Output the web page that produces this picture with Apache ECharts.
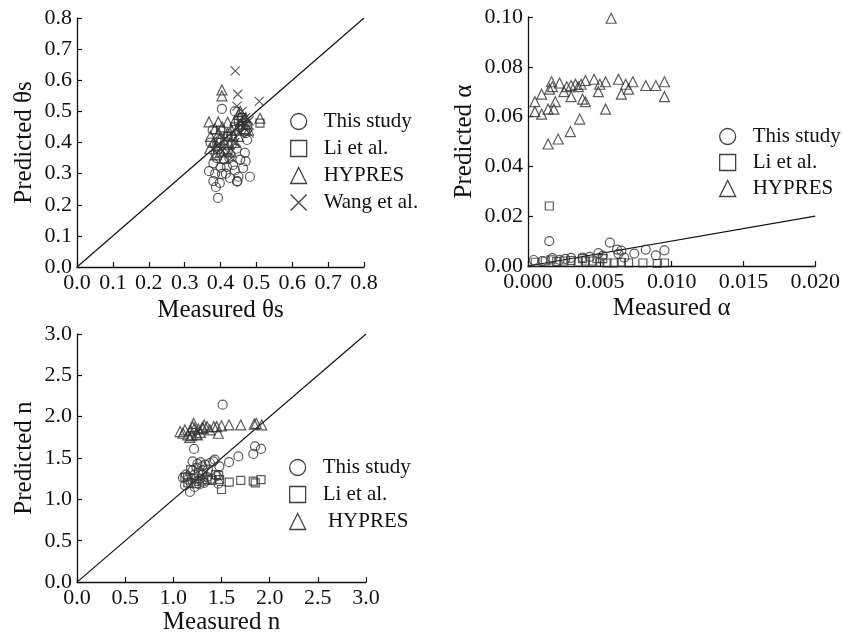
<!DOCTYPE html>
<html>
<head>
<meta charset="utf-8">
<script src="https://cdn.jsdelivr.net/npm/echarts@6/dist/echarts.min.js"></script>
<style>html,body{margin:0;padding:0;background:#fff}#c{width:843px;height:636px}</style>
</head>
<body>
<div id="c"></div>
<script>
// ---------- Panel 1: theta_s (measured, predicted) ----------
const thetaThisStudy = [[0.404,0.508],[0.393,0.222],[0.387,0.257],[0.380,0.276],[0.368,0.308],[0.398,0.270],[0.404,0.299],[0.426,0.286],[0.446,0.274],[0.482,0.290],[0.468,0.367],[0.463,0.318],[0.380,0.333],[0.418,0.322],[0.435,0.328],[0.372,0.400],[0.474,0.408],[0.390,0.350],[0.410,0.345],[0.455,0.345],[0.395,0.380],[0.420,0.370],[0.445,0.380],[0.470,0.430],[0.378,0.440],[0.400,0.410],[0.430,0.420],[0.455,0.450],[0.440,0.500],[0.460,0.480],[0.385,0.300],[0.415,0.300],[0.440,0.310],[0.470,0.340],[0.400,0.320],[0.425,0.350],[0.450,0.290],[0.386,0.365],[0.432,0.395],[0.475,0.455],[0.447,0.276]];
const thetaLi = [[0.510,0.462],[0.400,0.440],[0.420,0.420],[0.440,0.450],[0.460,0.480],[0.470,0.440],[0.390,0.400],[0.450,0.470]];
const thetaHypres = [[0.368,0.466],[0.394,0.466],[0.404,0.569],[0.404,0.550],[0.510,0.478],[0.370,0.380],[0.372,0.420],[0.385,0.445],[0.395,0.430],[0.405,0.450],[0.412,0.400],[0.420,0.465],[0.430,0.440],[0.440,0.470],[0.450,0.490],[0.455,0.460],[0.462,0.470],[0.470,0.480],[0.380,0.400],[0.390,0.390],[0.400,0.370],[0.415,0.380],[0.425,0.395],[0.435,0.420],[0.445,0.440],[0.455,0.500],[0.465,0.445],[0.475,0.460],[0.478,0.440],[0.385,0.360],[0.410,0.350],[0.430,0.370],[0.440,0.400],[0.450,0.420],[0.420,0.430],[0.398,0.410]];
const thetaWang = [[0.441,0.630],[0.448,0.555],[0.508,0.532],[0.446,0.517],[0.470,0.480],[0.480,0.470],[0.460,0.500],[0.400,0.380],[0.420,0.370],[0.440,0.400],[0.455,0.430],[0.470,0.460],[0.430,0.350],[0.410,0.410],[0.480,0.430],[0.390,0.390]];
const thetaOneToOne = [[0,0],[0.8,0.8]];
const thetaTicks = ['0.0','0.1','0.2','0.3','0.4','0.5','0.6','0.7','0.8'];

// ---------- Panel 2: alpha ----------
const alphaThisStudy = [[0.00148,0.0100],[0.0057,0.0094],[0.0062,0.0066],[0.0065,0.0062],[0.0074,0.0050],[0.0082,0.0066],[0.0089,0.0043],[0.0095,0.0063],[0.0063,0.0049],[0.0049,0.0052],[0.0004,0.0024],[0.0017,0.0032],[0.0026,0.0029],[0.0030,0.0033],[0.0038,0.0034],[0.0043,0.0037],[0.0052,0.0042],[0.0067,0.0034],[0.0022,0.0025],[0.0010,0.0020]];
const alphaLi = [[0.0005,0.0015],[0.0012,0.0020],[0.00148,0.0241],[0.0016,0.0025],[0.0020,0.0018],[0.0025,0.0020],[0.0030,0.0022],[0.0035,0.0016],[0.0040,0.0020],[0.0045,0.0020],[0.0050,0.0015],[0.0055,0.0012],[0.0060,0.0012],[0.0065,0.0015],[0.0070,0.0012],[0.0080,0.0012],[0.0090,0.0010],[0.0095,0.0012],[0.0038,0.0030],[0.0048,0.0030],[0.0052,0.0030]];
const alphaHypres = [[0.00579,0.0995],[0.00048,0.066],[0.00048,0.062],[0.00095,0.061],[0.00095,0.069],[0.0014,0.063],[0.0014,0.049],[0.00164,0.074],[0.0015,0.071],[0.0018,0.063],[0.0019,0.066],[0.0021,0.051],[0.0022,0.0735],[0.0027,0.072],[0.00295,0.054],[0.0030,0.068],[0.0030,0.0725],[0.0033,0.073],[0.0036,0.059],[0.0037,0.073],[0.0038,0.067],[0.0040,0.066],[0.0040,0.0745],[0.0046,0.075],[0.0049,0.070],[0.0050,0.073],[0.0054,0.063],[0.0054,0.074],[0.0063,0.075],[0.0065,0.069],[0.0068,0.073],[0.0070,0.071],[0.0073,0.074],[0.0082,0.0725],[0.0089,0.0725],[0.0095,0.074],[0.0095,0.068],[0.0017,0.072],[0.0025,0.070],[0.0035,0.072]];
const alphaOneToOne = [[0,0],[0.02,0.02]];
const alphaXTicks = ['0.000','0.005','0.010','0.015','0.020'];
const alphaYTicks = ['0.00','0.02','0.04','0.06','0.08','0.10'];

// ---------- Panel 3: n ----------
const nThisStudy = [[1.512,2.145],[1.215,1.61],[1.675,1.52],[1.578,1.45],[1.848,1.64],[1.91,1.61],[1.83,1.55],[1.478,1.40],[1.415,1.46],[1.467,1.19],[1.173,1.09],[1.12,1.17],[1.10,1.26],[1.15,1.28],[1.20,1.46],[1.25,1.43],[1.28,1.45],[1.30,1.40],[1.33,1.42],[1.38,1.44],[1.43,1.48],[1.20,1.35],[1.22,1.30],[1.25,1.22],[1.28,1.25],[1.30,1.30],[1.32,1.20],[1.35,1.27],[1.40,1.25],[1.18,1.20],[1.22,1.15],[1.27,1.18],[1.15,1.24],[1.13,1.30],[1.36,1.36],[1.45,1.28],[1.24,1.38],[1.31,1.35]];
const nLi = [[1.50,1.12],[1.58,1.21],[1.70,1.23],[1.85,1.20],[1.91,1.24],[1.47,1.29],[1.44,1.30],[1.12,1.27],[1.18,1.36],[1.22,1.25],[1.26,1.32],[1.30,1.22],[1.35,1.24],[1.40,1.23],[1.15,1.20],[1.24,1.19],[1.48,1.24],[1.83,1.22]];
const nHypres = [[1.07,1.82],[1.10,1.80],[1.12,1.84],[1.15,1.78],[1.17,1.75],[1.18,1.83],[1.20,1.88],[1.21,1.92],[1.22,1.86],[1.24,1.79],[1.26,1.85],[1.28,1.81],[1.30,1.87],[1.31,1.86],[1.32,1.90],[1.35,1.88],[1.38,1.84],[1.42,1.88],[1.45,1.88],[1.467,1.80],[1.50,1.89],[1.578,1.90],[1.70,1.90],[1.84,1.91],[1.86,1.92],[1.917,1.90],[1.25,1.78],[1.19,1.77]];
const nOneToOne = [[0,0],[3,3]];
const nTicks = ['0.0','0.5','1.0','1.5','2.0','2.5','3.0'];

const legend1 = ['This study','Li et al.','HYPRES','Wang et al.'];
const legend2 = ['This study','Li et al.','HYPRES'];
const legend3 = ['This study','Li et al.',' HYPRES'];

// ---------- styling ----------
const FONT = '"Liberation Serif","Times New Roman",serif';
const INK = '#111';
const MK = '#333';
const CROSS = 'path://M0,0L10,10M0,10L10,0';

function axis(gridIndex, min, max, interval, ticks, name, gap, isX) {
  return {
    type: 'value', gridIndex, min, max, interval,
    name, nameLocation: 'middle', nameGap: gap,
    nameTextStyle: { fontFamily: FONT, fontSize: 25, color: INK },
    axisLine: { show: true, onZero: false, lineStyle: { color: INK, width: 1.3 } },
    axisTick: { show: true, inside: true, length: 5, lineStyle: { color: INK, width: 1.2 } },
    axisLabel: {
      fontFamily: FONT, fontSize: 22, color: INK, margin: isX ? 5 : 5,
      formatter: (v) => { const i = Math.round((v - min) / interval); return ticks[i] !== undefined ? ticks[i] : ''; }
    },
    splitLine: { show: false }
  };
}

function pts(name, data, symbol, size, xi) {
  return {
    type: 'scatter', name, data, symbol, symbolSize: size,
    xAxisIndex: xi, yAxisIndex: xi,
    itemStyle: { color: 'transparent', borderColor: MK, borderWidth: 1.2 },
    emphasis: { disabled: true }, silent: true, z: 3
  };
}
function diag(data, xi) {
  return {
    type: 'line', data, xAxisIndex: xi, yAxisIndex: xi, symbol: 'none',
    lineStyle: { color: INK, width: 1.2 }, silent: true, z: 2
  };
}
function leg(data, left, top, gap) {
  return {
    data, orient: 'vertical', left, top, padding: 0, itemGap: gap,
    itemWidth: 16, itemHeight: 16, selectedMode: false,
    textStyle: { fontFamily: FONT, fontSize: 21, color: INK, padding: [0, 0, 0, 12] },
    itemStyle: { color: 'transparent', borderColor: INK, borderWidth: 1.3 }
  };
}

const option = {
  animation: false,
  backgroundColor: '#fff',
  grid: [
    { left: 77, top: 18, width: 287, height: 249 },
    { left: 528, top: 17, width: 289, height: 249 },
    { left: 77, top: 334, width: 289, height: 249 }
  ],
  xAxis: [
    axis(0, 0, 0.8, 0.1, thetaTicks, 'Measured θs', 31, true),
    axis(1, 0, 0.02, 0.005, alphaXTicks, 'Measured α', 30, true),
    axis(2, 0, 3, 0.5, nTicks, 'Measured n', 26, true)
  ],
  yAxis: [
    axis(0, 0, 0.8, 0.1, thetaTicks, 'Predicted θs', 40, false),
    axis(1, 0, 0.1, 0.02, alphaYTicks, 'Predicted α', 51, false),
    axis(2, 0, 3, 0.5, nTicks, 'Predicted n', 40, false)
  ],
  legend: [
    leg(legend1, 290, 111, 6),
    leg(legend2, 719, 126, 5),
    leg(legend3, 289, 457, 6)
  ],
  series: [
    diag(thetaOneToOne, 0),
    pts('This study', thetaThisStudy, 'circle', 9, 0),
    pts('Li et al.', thetaLi, 'rect', 8, 0),
    pts('HYPRES', thetaHypres, 'triangle', 10, 0),
    pts('Wang et al.', thetaWang, CROSS, 9, 0),
    diag(alphaOneToOne, 1),
    pts('This study', alphaThisStudy, 'circle', 9, 1),
    pts('Li et al.', alphaLi, 'rect', 8, 1),
    pts('HYPRES', alphaHypres, 'triangle', 10, 1),
    diag(nOneToOne, 2),
    pts('This study', nThisStudy, 'circle', 9, 2),
    pts('Li et al.', nLi, 'rect', 8, 2),
    pts(' HYPRES', nHypres, 'triangle', 10, 2)
  ]
};
echarts.init(document.getElementById('c'), null, { renderer: 'canvas' }).setOption(option);
</script>
</body>
</html>
